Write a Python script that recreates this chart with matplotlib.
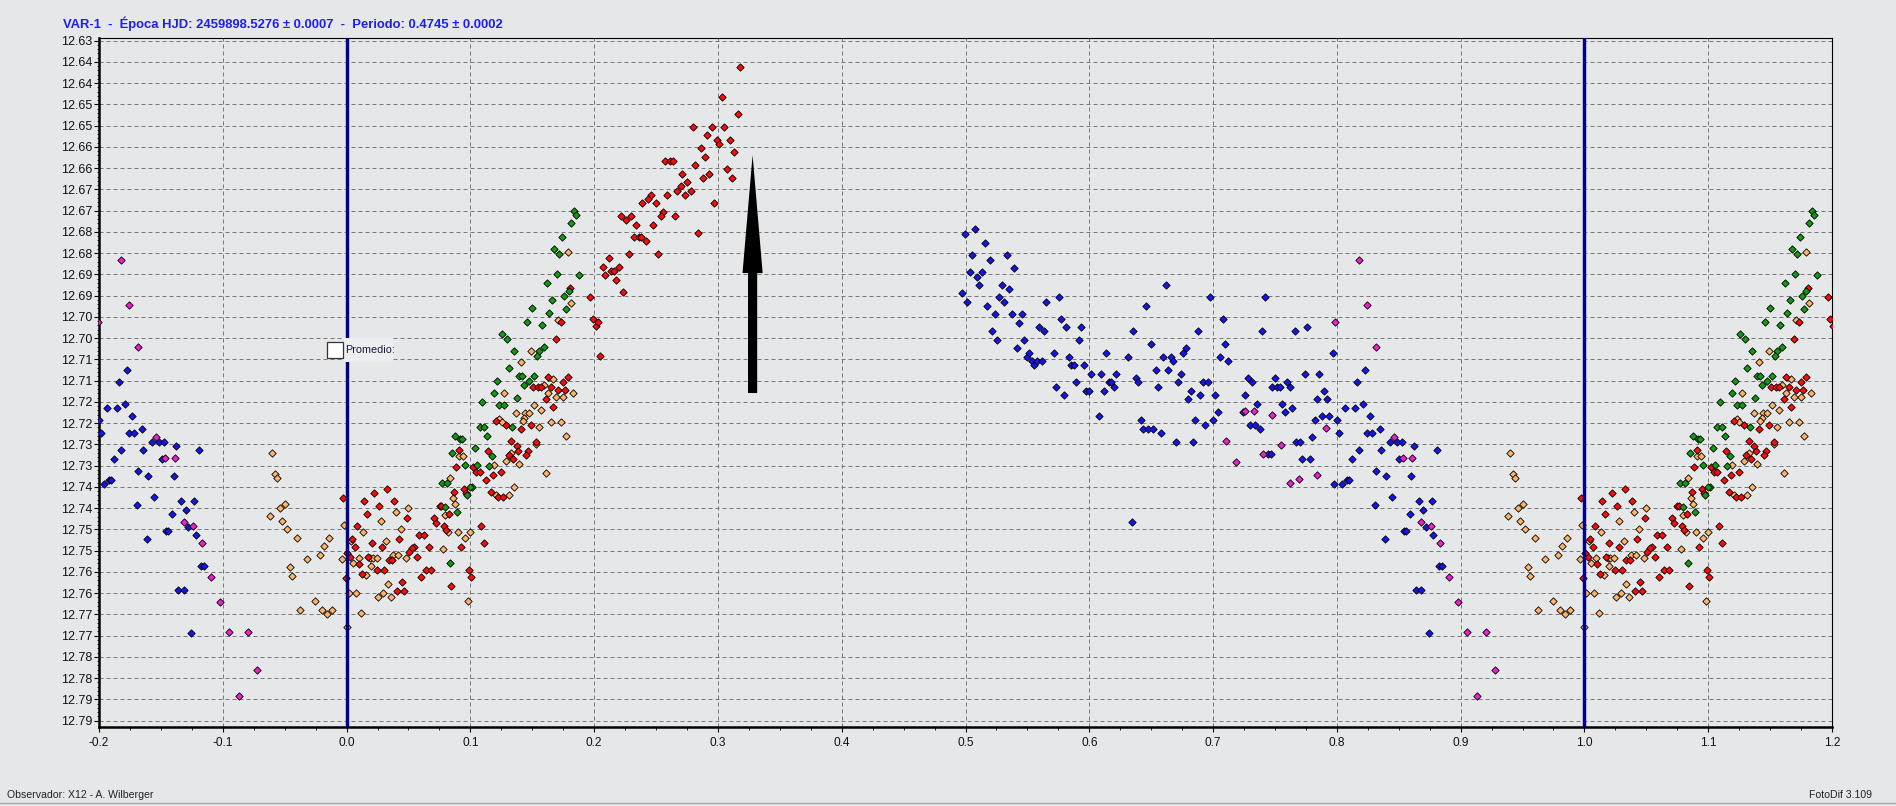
import matplotlib
matplotlib.use("Agg")
import matplotlib.pyplot as plt
from matplotlib.patches import FancyArrowPatch, Rectangle
from matplotlib.lines import Line2D
import numpy as np

plt.rcParams['axes.unicode_minus'] = False
plt.rcParams['font.family'] = ['Liberation Sans', 'DejaVu Sans']

# ---------------- data (phase, magnitude) ----------------
blue_phase = [0.4992, 0.5076, 0.5157, 0.5049, 0.5197, 0.5332, 0.5035, 0.5089, 0.5130, 0.5391,
              0.5113, 0.5291, 0.5348, 0.4968, 0.5011, 0.5267, 0.5308, 0.5173, 0.5238, 0.5372,
              0.5456, 0.5429, 0.5211, 0.5254, 0.5413, 0.5470, 0.5648, 0.5753, 0.5769, 0.5591,
              0.5634, 0.5810, 0.5934, 0.5915, 0.5494, 0.5510, 0.5537, 0.5553, 0.5575, 0.5618,
              0.5713, 0.5834, 0.5850, 0.5877, 0.5955, 0.5729, 0.5794, 0.5891, 0.5972, 0.5999,
              0.6012, 0.6093, 0.6134, 0.6158, 0.6174, 0.6215, 0.6117, 0.6198, 0.6080, 0.6314,
              0.6352, 0.6457, 0.6619, 0.6498, 0.6376, 0.6393, 0.6541, 0.6595, 0.6636, 0.6663,
              0.6676, 0.6555, 0.6717, 0.6744, 0.6757, 0.6781, 0.6417, 0.6433, 0.6474, 0.6514,
              0.6579, 0.6700, 0.6838, 0.6879, 0.6976, 0.6822, 0.6798, 0.6895, 0.6919, 0.6959,
              0.6854, 0.6935, 0.7016, 0.7043, 0.7000, 0.7081, 0.7097, 0.7057, 0.7124, 0.7259,
              0.7240, 0.7286, 0.7316, 0.7356, 0.7300, 0.7340, 0.7381, 0.7397, 0.7421, 0.7443,
              0.7464, 0.7476, 0.6343,
              0.7501, 0.7517, 0.7541, 0.7598, 0.7622, 0.7557, 0.7582, 0.7638, 0.7746, 0.7857,
              0.7665, 0.7762, 0.7965, 0.7897, 0.7843, 0.7922, 0.7827, 0.7884, 0.7938, 0.8003,
              0.7673, 0.7703, 0.7800, 0.7719, 0.7787, 0.8019, 0.7978, 0.8043, 0.8084, 0.8100,
              0.8062, 0.8143, 0.8208, 0.8165, 0.8224, 0.8265, 0.8243, 0.8281, 0.8345, 0.8124,
              0.8181, 0.8359, 0.8426, 0.8483, 0.8524, 0.8505, 0.8626, 0.8807, 0.8318, 0.8399,
              0.8602, 0.8305, 0.8443, 0.8386, 0.8661, 0.8767, 0.8699, 0.8588, 0.8545, 0.8561,
              0.8723, 0.8780, 0.8823, 0.8847, 0.8642, 0.8683, 0.8742]
blue_mag = [12.6755, 12.6744, 12.6775, 12.6804, 12.6815, 12.6804, 12.6844, 12.6855, 12.6844, 12.6835,
            12.6875, 12.6875, 12.6884, 12.6894, 12.6915, 12.6903, 12.6915, 12.6924, 12.6943, 12.6943,
            12.6943, 12.6964, 12.6983, 12.7004, 12.7023, 12.7004, 12.6915, 12.6903, 12.6955, 12.6974,
            12.6983, 12.6974, 12.6974, 12.7004, 12.7044, 12.7035, 12.7054, 12.7063, 12.7054, 12.7054,
            12.7035, 12.7044, 12.7063, 12.7063, 12.7063, 12.7115, 12.7134, 12.7103, 12.7124, 12.7124,
            12.7084, 12.7084, 12.7035, 12.7103, 12.7103, 12.7084, 12.7124, 12.7115, 12.7183, 12.7044,
            12.6983, 12.6924, 12.6875, 12.7014, 12.7094, 12.7103, 12.7075, 12.7044, 12.7075, 12.7044,
            12.7054, 12.7115, 12.7103, 12.7084, 12.7035, 12.7023, 12.7193, 12.7214, 12.7214, 12.7214,
            12.7223, 12.7244, 12.7244, 12.6983, 12.6903, 12.7124, 12.7143, 12.7134, 12.7103, 12.7103,
            12.7193, 12.7204, 12.7134, 12.7174, 12.7193, 12.6955, 12.7014, 12.7044, 12.7054, 12.7134,
            12.7174, 12.7094, 12.7103, 12.7155, 12.7204, 12.7204, 12.7214, 12.6983, 12.6903, 12.7273,
            12.7273, 12.7115, 12.7433,
            12.7094, 12.7115, 12.7115, 12.7102, 12.7115, 12.7155, 12.7174, 12.7164, 12.7084, 12.7084,
            12.6983, 12.6974, 12.7035, 12.7124, 12.7143, 12.7143, 12.7193, 12.7183, 12.7183, 12.7193,
            12.7244, 12.7244, 12.7233, 12.7284, 12.7284, 12.7223, 12.7343, 12.7343, 12.7334, 12.7334,
            12.7164, 12.7164, 12.7155, 12.7103, 12.7075, 12.7183, 12.7223, 12.7223, 12.7214, 12.7284,
            12.7263, 12.7263, 12.7244, 12.7244, 12.7244, 12.7284, 12.7254, 12.7263, 12.7313, 12.7324,
            12.7324, 12.7393, 12.7374, 12.7473, 12.7383, 12.7383, 12.7404, 12.7414, 12.7454, 12.7454,
            12.7444, 12.7463, 12.7535, 12.7535, 12.7593, 12.7593, 12.7694]

magenta_phase = [0.7105, 0.7186, 0.7259, 0.7332, 0.7402, 0.7478, 0.8246, 0.7989, 0.8318, 0.7916,
                 0.7549, 0.7622, 0.7695, 0.7841, 0.8464, 0.8537, 0.8610, 0.8683, 0.8758, 0.8831,
                 0.8904, 0.8977, 0.9050, 0.9204, 0.9277, 0.9131, 0.8180]
magenta_mag = [12.7242, 12.7291, 12.7171, 12.7171, 12.7273, 12.7181, 12.6922, 12.6962, 12.7021, 12.7211,
               12.7251, 12.7341, 12.7331, 12.7322, 12.7233, 12.7282, 12.7282, 12.7433, 12.7442, 12.7482,
               12.7562, 12.7621, 12.7691, 12.7691, 12.7781, 12.7842, 12.6816]

orange_phase = [0.9395, 0.9420, 0.9439, 0.9501, 0.9460, 0.9379, 0.9476, 0.9517, 0.9598, 0.9857,
                0.9816, 0.9784, 0.9679, 0.9965, 0.9541, 0.9557, 0.9744, 0.9622, 0.9800, 0.9841,
                0.9881, 0.9978, 0.0000,
                0.1815, 0.1707, 0.1790, 0.1489, 0.1408, 0.1667, 0.1596, 0.1626, 0.1828, 0.1271,
                0.1691, 0.1747, 0.1516, 0.1572, 0.1370, 0.1443, 0.1475, 0.1435, 0.1422, 0.1233,
                0.1252, 0.1553, 0.1650, 0.1734, 0.1772, 0.1529, 0.0910, 0.0940, 0.1327, 0.1287,
                0.1193, 0.1392, 0.1613, 0.0837, 0.1352, 0.1209, 0.1314, 0.0862, 0.0875, 0.0794,
                0.0821, 0.0899, 0.0956, 0.0999, 0.0778, 0.0983, 0.0479, 0.0495, 0.0442, 0.0401,
                0.0277, 0.0132, 0.0035, 0.0318, 0.0377, 0.0417, 0.0051, 0.0097, 0.0188, 0.0210,
                0.0242, 0.0197, 0.0156, 0.0337, 0.0296, 0.0256, 0.0361, 0.0016, 0.0075, 0.0118]
orange_mag = [12.7270, 12.7320, 12.7329, 12.7390, 12.7400, 12.7418, 12.7430, 12.7449, 12.7470, 12.7470,
              12.7489, 12.7510, 12.7520, 12.7520, 12.7538, 12.7560, 12.7618, 12.7640, 12.7640, 12.7650,
              12.7640, 12.7440, 12.7680,
              12.6918, 12.6958, 12.6798, 12.7029, 12.7056, 12.7097, 12.7110, 12.7128, 12.7128, 12.7128,
              12.7138, 12.7138, 12.7158, 12.7168, 12.7177, 12.7177, 12.7177, 12.7188, 12.7194, 12.7189,
              12.7198, 12.7208, 12.7198, 12.7198, 12.7229, 12.7249, 12.7278, 12.7278, 12.7269, 12.7288,
              12.7298, 12.7297, 12.7318, 12.7328, 12.7349, 12.7368, 12.7368, 12.7377, 12.7389, 12.7417,
              12.7457, 12.7457, 12.7469, 12.7457, 12.7497, 12.7618, 12.7518, 12.7399, 12.7448, 12.7408,
              12.7429, 12.7457, 12.7478, 12.7478, 12.7510, 12.7510, 12.7528, 12.7518, 12.7518, 12.7518,
              12.7518, 12.7537, 12.7558, 12.7578, 12.7599, 12.7608, 12.7608, 12.7599, 12.7599, 12.7647]

red_phase = [0.1968, 0.1987, 0.1804, 0.1734, 0.1694, 0.1629, 0.1788, 0.1747, 0.1505, 0.1545,
             0.1572, 0.1653, 0.1707, 0.1764, 0.1613, 0.1667, 0.1206, 0.1290, 0.1408, 0.1489,
             0.1327, 0.1373, 0.1532, 0.1142, 0.0910, 0.1309, 0.1387, 0.1467, 0.1449, 0.1344,
             0.0883, 0.1023, 0.1047, 0.1074, 0.1182, 0.1247, 0.1128, 0.0950, 0.0964, 0.1169,
             0.1225, 0.1265, 0.0870, 0.0751, 0.0765, 0.0829, 0.0708, 0.0724, 0.0786, 0.0802,
             0.1085, 0.1109, 0.0924, 0.0665, 0.0584, 0.0627, 0.0643, 0.0681, 0.0603, 0.0991,
             0.1007, 0.0843, 0.0547, 0.0530, 0.0503, 0.0568, 0.0490, 0.0385, 0.0326, 0.0221,
             0.0264, 0.0140, 0.0164, 0.0086, 0.0043, 0.0067, 0.0202, 0.0283, 0.0423, 0.0339,
             0.0366, 0.0027, 0.0100, 0.0175, 0.0245, 0.0304, 0.0124, 0.0409, 0.0466, 0.0450,
             0.0005, 0.9973, 0.9992,
             0.3175, 0.3035, 0.3159, 0.2796, 0.2954, 0.3051, 0.2914, 0.2995, 0.3011, 0.3094,
             0.2860, 0.3132, 0.2898, 0.2575, 0.2616, 0.2634, 0.2817, 0.3075, 0.2712, 0.2930,
             0.2876, 0.3116, 0.2753, 0.2699, 0.2672, 0.2780, 0.2457, 0.2591, 0.2737, 0.2433,
             0.2390, 0.2497, 0.2970, 0.2554, 0.2538, 0.2215, 0.2296, 0.2656, 0.2255, 0.2336,
             0.2473, 0.2836, 0.2320, 0.2360, 0.2376, 0.2417, 0.2280, 0.2513, 0.2118, 0.2075,
             0.2134, 0.2159, 0.2199, 0.2091, 0.2175, 0.2237, 0.2011, 0.2035, 0.2051]
red_mag = [12.6904, 12.6954, 12.6883, 12.6963, 12.7003, 12.7092, 12.7092, 12.7104, 12.7114, 12.7114,
           12.7114, 12.7114, 12.7123, 12.7123, 12.7144, 12.7163, 12.7194, 12.7204, 12.7213, 12.7204,
           12.7243, 12.7253, 12.7244, 12.7265, 12.7264, 12.7274, 12.7265, 12.7265, 12.7274, 12.7284,
           12.7304, 12.7304, 12.7314, 12.7314, 12.7323, 12.7314, 12.7333, 12.7354, 12.7364, 12.7363,
           12.7373, 12.7373, 12.7363, 12.7394, 12.7394, 12.7413, 12.7424, 12.7434, 12.7443, 12.7452,
           12.7443, 12.7483, 12.7492, 12.7492, 12.7464, 12.7464, 12.7545, 12.7545, 12.7563, 12.7545,
           12.7563, 12.7584, 12.7492, 12.7493, 12.7504, 12.7514, 12.7423, 12.7384, 12.7354, 12.7364,
           12.7394, 12.7384, 12.7413, 12.7443, 12.7473, 12.7492, 12.7483, 12.7492, 12.7473, 12.7523,
           12.7523, 12.7514, 12.7532, 12.7514, 12.7545, 12.7545, 12.7554, 12.7594, 12.7594, 12.7573,
           12.7506, 12.7375, 12.7564,
           12.6363, 12.6433, 12.6473, 12.6504, 12.6504, 12.6504, 12.6523, 12.6534, 12.6544, 12.6534,
           12.6553, 12.6563, 12.6574, 12.6584, 12.6584, 12.6584, 12.6593, 12.6603, 12.6614, 12.6614,
           12.6624, 12.6624, 12.6633, 12.6643, 12.6654, 12.6654, 12.6664, 12.6664, 12.6664, 12.6673,
           12.6683, 12.6683, 12.6683, 12.6704, 12.6713, 12.6713, 12.6713, 12.6713, 12.6723, 12.6734,
           12.6734, 12.6753, 12.6763, 12.6763, 12.6763, 12.6772, 12.6803, 12.6803, 12.6812, 12.6833,
           12.6843, 12.6843, 12.6833, 12.6852, 12.6864, 12.6892, 12.6972, 12.6963, 12.7043]

green_phase = [0.1839, 0.1852, 0.1815, 0.1742, 0.1677, 0.1715, 0.1702, 0.1877, 0.1618, 0.1659,
               0.1756, 0.1793, 0.1774, 0.1634, 0.1497, 0.1459, 0.1578, 0.1255, 0.1295, 0.1351,
               0.1553, 0.1596, 0.1540, 0.1311, 0.1394, 0.1416, 0.1516, 0.1473, 0.1435, 0.1217,
               0.1190, 0.1378, 0.1093, 0.1233, 0.1274, 0.1335, 0.1074, 0.1112, 0.1133, 0.0875,
               0.0918, 0.0934, 0.1036, 0.0851, 0.1174, 0.1150, 0.1055, 0.0956, 0.0770, 0.0810,
               0.1015, 0.0999, 0.0972, 0.0797, 0.0891, 0.0837]
green_mag = [12.6700, 12.6709, 12.6730, 12.6761, 12.6789, 12.6802, 12.6850, 12.6851, 12.6869, 12.6909,
             12.6900, 12.6890, 12.6931, 12.6940, 12.6930, 12.6961, 12.6970, 12.6989, 12.7001, 12.7029,
             12.7029, 12.7020, 12.7041, 12.7070, 12.7090, 12.7090, 12.7090, 12.7100, 12.7109, 12.7100,
             12.7130, 12.7140, 12.7149, 12.7158, 12.7158, 12.7210, 12.7209, 12.7210, 12.7230, 12.7229,
             12.7238, 12.7238, 12.7259, 12.7269, 12.7278, 12.7300, 12.7299, 12.7299, 12.7340, 12.7340,
             12.7349, 12.7349, 12.7370, 12.7398, 12.7410, 12.7530]

y_tick_values = [12.630 + 0.005 * k for k in range(33)]
y_tick_labels = ['12.63', '12.64', '12.64', '12.65', '12.65', '12.66', '12.66', '12.67', '12.67',
                 '12.68', '12.68', '12.69', '12.69', '12.70', '12.70', '12.71', '12.71', '12.72',
                 '12.72', '12.73', '12.73', '12.74', '12.74', '12.75', '12.75', '12.76', '12.76',
                 '12.77', '12.77', '12.78', '12.78', '12.79', '12.79']
x_tick_values = [-0.2, -0.1, 0.0, 0.1, 0.2, 0.3, 0.4, 0.5, 0.6, 0.7, 0.8, 0.9, 1.0, 1.1, 1.2]
x_tick_labels = ['-0.2', '-0.1', '0.0', '0.1', '0.2', '0.3', '0.4', '0.5', '0.6', '0.7',
                 '0.8', '0.9', '1.0', '1.1', '1.2']

title_text = "VAR-1  -  Época HJD: 2459898.5276 ± 0.0007  -  Periodo: 0.4745 ± 0.0002"
observer_text = "Observador: X12 - A. Wilberger"
software_text = "FotoDif 3.109"

# ---------------- figure ----------------
W, H, DPI = 1896, 806, 100
BG = '#E5E7E8'
fig = plt.figure(figsize=(W / DPI, H / DPI), dpi=DPI, facecolor=BG)

def px(x, y):
    return x / W, 1 - y / H

ax = fig.add_axes([99 / W, 1 - 726.7 / H, (1832 - 99) / W, (726.7 - 38.3) / H])
ax.set_facecolor(BG)
ax.set_xlim(-0.2, 1.2)
ax.set_ylim(12.79141, 12.62944)

ax.set_yticks(y_tick_values)
ax.set_yticklabels(y_tick_labels)
ax.set_xticks(x_tick_values)
ax.set_xticklabels(x_tick_labels)
ax.set_xticks(np.arange(-0.2, 1.2001, 0.025), minor=True)
ax.set_yticks(np.arange(12.630, 12.7901, 0.001), minor=True)

ax.tick_params(axis='y', which='major', length=3.6, width=0.8, pad=1.2,
               labelsize=9.0, labelcolor='#111111', color='black')
ax.tick_params(axis='y', which='minor', length=1.2, width=0.6, color='black')
ax.tick_params(axis='x', which='major', length=3.6, width=0.8, pad=3.5,
               labelsize=8.6, labelcolor='#111111', color='black')
ax.tick_params(axis='x', which='minor', length=2.0, width=0.6, color='black')

ax.grid(True, which='major', color='#7a7a7a', linewidth=0.72, linestyle=(0, (4, 3)), zorder=0)
ax.set_axisbelow(True)

for side in ['left', 'bottom']:
    ax.spines[side].set_linewidth(1.8)
    ax.spines[side].set_color('black')
for side in ['top', 'right']:
    ax.spines[side].set_linewidth(0.8)
    ax.spines[side].set_color('black')

series = [
    (blue_phase, blue_mag, '#1414F0'),
    (magenta_phase, magenta_mag, '#F020D0'),
    (orange_phase, orange_mag, '#FFB468'),
    (red_phase, red_mag, '#FF0A0A'),
    (green_phase, green_mag, '#129A12'),
]
for ph, mg, col in series:
    ph = np.asarray(ph)
    mg = np.asarray(mg)
    xs = np.concatenate([ph - 1, ph, ph + 1])
    ys = np.concatenate([mg, mg, mg])
    ax.scatter(xs, ys, marker='D', s=14, facecolor=col, edgecolor='black',
               linewidths=0.6, zorder=3)

for xv in (0.0, 1.0):
    ax.axvline(xv, color='#000088', linewidth=2.45, zorder=4)

# arrow
arrow = FancyArrowPatch(posA=(0.328, 12.7129), posB=(0.328, 12.6569),
                        arrowstyle='simple,head_length=85,head_width=14.5,tail_width=6.6',
                        mutation_scale=1, shrinkA=0, shrinkB=0,
                        facecolor='black', edgecolor='none', zorder=5)
ax.add_patch(arrow)

# "Promedio:" legend box
fig.add_artist(Rectangle(px(344.3, 362), 48.5 / W, 24 / H, transform=fig.transFigure,
                         facecolor='#ECEEEF', edgecolor='none', zorder=6))
fig.add_artist(Rectangle(px(327.3, 357.7), 15.4 / W, 15.4 / H, transform=fig.transFigure,
                         facecolor='white', edgecolor='#333333', linewidth=0.9, zorder=7))
fig.text(*px(345.5, 350), "Promedio:", fontsize=7.8, color='#1a1a3a', ha='left', va='center',
         zorder=8)

# texts
fig.text(*px(63, 24), title_text, fontsize=9.4, fontweight='bold', color='#1E1EEE',
         ha='left', va='center')
fig.text(*px(7, 795), observer_text, fontsize=7.6, color='#222222', ha='left', va='center')
fig.text(*px(1872, 795), software_text, fontsize=7.6, color='#222222', ha='right', va='center')

# window bottom border
fig.add_artist(Line2D([0, 1], [1 - 803 / H, 1 - 803 / H], transform=fig.transFigure,
                      color='#A8A8A8', linewidth=1.0))

fig.savefig('out.png', dpi=DPI, facecolor=BG)
